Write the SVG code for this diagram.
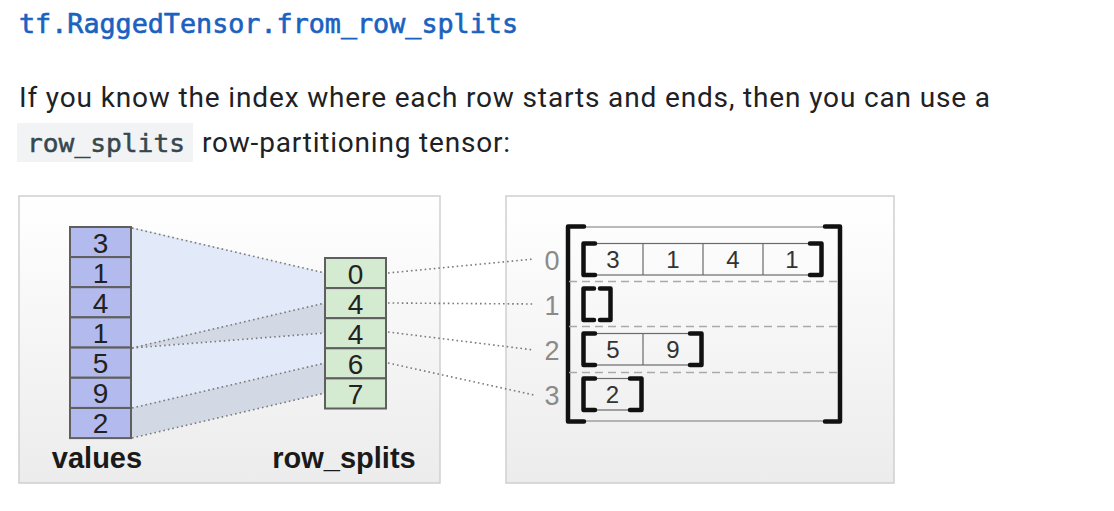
<svg xmlns="http://www.w3.org/2000/svg" width="1114" height="511" viewBox="0 0 1114 511">
<defs>
<linearGradient id="pg" x1="0" y1="0" x2="0" y2="1">
<stop offset="0" stop-color="#ffffff"/>
<stop offset="1" stop-color="#ececec"/>
</linearGradient>
<style>
.hdr{font-family:"DejaVu Sans Mono","Liberation Mono",monospace;font-size:26px;fill:#1a62c0;stroke:#1a62c0;stroke-width:0.6}
.para{font-family:Roboto,"Liberation Sans",sans-serif;font-size:28px;fill:#202124}
.code{font-family:"DejaVu Sans Mono","Liberation Mono",monospace;font-size:25.5px;fill:#37474f;stroke:#37474f;stroke-width:0.5}
.panel{fill:url(#pg);stroke:#cfcfcf;stroke-width:1.5}
.vcell{fill:#b3bbee;stroke:#5f5f5f;stroke-width:2}
.scell{fill:#d5ebd1;stroke:#5f5f5f;stroke-width:2}
.num{font-family:"Liberation Sans",Arial,sans-serif;font-size:28px;fill:#222;text-anchor:middle}
.inum{font-family:"Liberation Sans",Arial,sans-serif;font-size:24px;fill:#333;text-anchor:middle}
.rlab{font-family:"Liberation Sans",Arial,sans-serif;font-size:27px;fill:#8a8a8a;text-anchor:middle}
.lbl{font-family:"Liberation Sans",Arial,sans-serif;font-size:29px;font-weight:bold;fill:#1a1a1a;text-anchor:middle}
.dot{fill:none;stroke:#7a7a7a;stroke-width:1.6;stroke-dasharray:1.6 3}
.wl{fill:#e2e9f8}
.wd{fill:#d2d9e4}
.icell{fill:none;stroke:#6a6a6a;stroke-width:1.2}
.brk{fill:none;stroke:#111;stroke-width:4.5;stroke-linecap:round;stroke-linejoin:round}
.thin{fill:none;stroke:#777;stroke-width:1.2}
.sep{fill:none;stroke:#aaa;stroke-width:1.3;stroke-dasharray:8 5}
</style>
</defs>
<rect width="1114" height="511" fill="#ffffff"/>
<g id="header">
<text class="hdr" x="19" y="33" textLength="499" lengthAdjust="spacingAndGlyphs">tf.RaggedTensor.from_row_splits</text>
</g>
<g id="paragraph">
<text class="para" x="19" y="107" textLength="971" lengthAdjust="spacing">If you know the index where each row starts and ends, then you can use a</text>
<rect x="17" y="123" width="176" height="39" fill="#f1f3f4"/>
<text class="code" x="27" y="152" textLength="158" lengthAdjust="spacingAndGlyphs">row_splits</text>
<text class="para" x="202" y="152" textLength="308" lengthAdjust="spacing">row-partitioning tensor:</text>
</g>
<g id="left-panel">
<rect class="panel" x="19" y="196" width="421" height="287"/>
</g>
<g id="right-panel">
<rect class="panel" x="506" y="196" width="388" height="287"/>
</g>
<g id="wedges">
<polygon class="wl" points="131,227 325,273 325,303 131,347.7"/>
<polygon class="wd" points="131,347.7 325,303 325,333"/>
<polygon class="wl" points="131,347.7 325,333 325,363 131,408"/>
<polygon class="wd" points="131,408 325,363 325,393 131,438"/>
</g>
<g id="connectors">
<line class="dot" x1="132" y1="228" x2="325" y2="273"/>
<line class="dot" x1="132" y1="348" x2="325" y2="303"/>
<line class="dot" x1="132" y1="348" x2="325" y2="333"/>
<line class="dot" x1="132" y1="408" x2="325" y2="363"/>
<line class="dot" x1="132" y1="438" x2="325" y2="393"/>
<line class="dot" x1="388" y1="273" x2="534" y2="259"/>
<line class="dot" x1="388" y1="303" x2="534" y2="304"/>
<line class="dot" x1="388" y1="332" x2="534" y2="350"/>
<line class="dot" x1="388" y1="363" x2="534" y2="395"/>
</g>
<g id="values">
<rect class="vcell" x="70" y="227" width="61" height="30.1"/>
<rect class="vcell" x="70" y="257.1" width="61" height="30.1"/>
<rect class="vcell" x="70" y="287.2" width="61" height="30.1"/>
<rect class="vcell" x="70" y="317.4" width="61" height="30.1"/>
<rect class="vcell" x="70" y="347.6" width="61" height="30.1"/>
<rect class="vcell" x="70" y="377.8" width="61" height="30.1"/>
<rect class="vcell" x="70" y="408" width="61" height="30.1"/>
<text class="num" x="100.5" y="252.5">3</text>
<text class="num" x="100.5" y="282.5">1</text>
<text class="num" x="100.5" y="312.5">4</text>
<text class="num" x="100.5" y="342.5">1</text>
<text class="num" x="100.5" y="373">5</text>
<text class="num" x="100.5" y="403">9</text>
<text class="num" x="100.5" y="433">2</text>
<text class="lbl" x="97" y="468">values</text>
</g>
<g id="row_splits">
<rect class="scell" x="325" y="258" width="61" height="30.1"/>
<rect class="scell" x="325" y="288.1" width="61" height="30.1"/>
<rect class="scell" x="325" y="318.2" width="61" height="30.1"/>
<rect class="scell" x="325" y="348.3" width="61" height="30.1"/>
<rect class="scell" x="325" y="378.4" width="61" height="30.1"/>
<text class="num" x="355.5" y="283.5">0</text>
<text class="num" x="355.5" y="313.5">4</text>
<text class="num" x="355.5" y="343.5">4</text>
<text class="num" x="355.5" y="374">6</text>
<text class="num" x="355.5" y="404">7</text>
<text class="lbl" x="344" y="468">row_splits</text>
</g>
<g id="row-labels">
<text class="rlab" x="552" y="269.5">0</text>
<text class="rlab" x="552" y="314.5">1</text>
<text class="rlab" x="552" y="359.5">2</text>
<text class="rlab" x="552" y="404.5">3</text>
</g>
<g id="ragged-tensor">
<line class="thin" x1="583" y1="227" x2="826" y2="227"/>
<line class="thin" x1="583" y1="421" x2="826" y2="421"/>
<path class="brk" d="M584 226.5 H568 V421.5 H584"/>
<path class="brk" d="M825 226.5 H840 V421.5 H825"/>
<line class="sep" x1="569" y1="281.5" x2="838" y2="281.5"/>
<line class="sep" x1="569" y1="326.5" x2="838" y2="326.5"/>
<line class="sep" x1="569" y1="372.5" x2="838" y2="372.5"/>
</g>
<g id="row0">
<rect class="icell" x="583" y="243.5" width="239" height="31.5"/>
<line class="icell" x1="643" y1="243.5" x2="643" y2="275"/>
<line class="icell" x1="703" y1="243.5" x2="703" y2="275"/>
<line class="icell" x1="763" y1="243.5" x2="763" y2="275"/>
<path class="brk" d="M595 243.5 H583.5 V275 H595"/>
<path class="brk" d="M810 243.5 H821.5 V275 H810"/>
<text class="inum" x="613" y="268">3</text>
<text class="inum" x="673" y="268">1</text>
<text class="inum" x="733" y="268">4</text>
<text class="inum" x="792" y="268">1</text>
</g>
<g id="row1">
<path class="brk" d="M594 288.5 H583.5 V320 H594"/>
<path class="brk" d="M600 288.5 H610.5 V320 H600"/>
</g>
<g id="row2">
<rect class="icell" x="583" y="333.5" width="119" height="31.5"/>
<line class="icell" x1="643" y1="333.5" x2="643" y2="365"/>
<path class="brk" d="M595 333.5 H583.5 V365 H595"/>
<path class="brk" d="M690 333.5 H701.5 V365 H690"/>
<text class="inum" x="613" y="358">5</text>
<text class="inum" x="673" y="358">9</text>
</g>
<g id="row3">
<rect class="icell" x="583" y="378.5" width="58.5" height="31.5"/>
<path class="brk" d="M595 378.5 H583.5 V410 H595"/>
<path class="brk" d="M630 378.5 H641.5 V410 H630"/>
<text class="inum" x="612.5" y="403">2</text>
</g>
</svg>
